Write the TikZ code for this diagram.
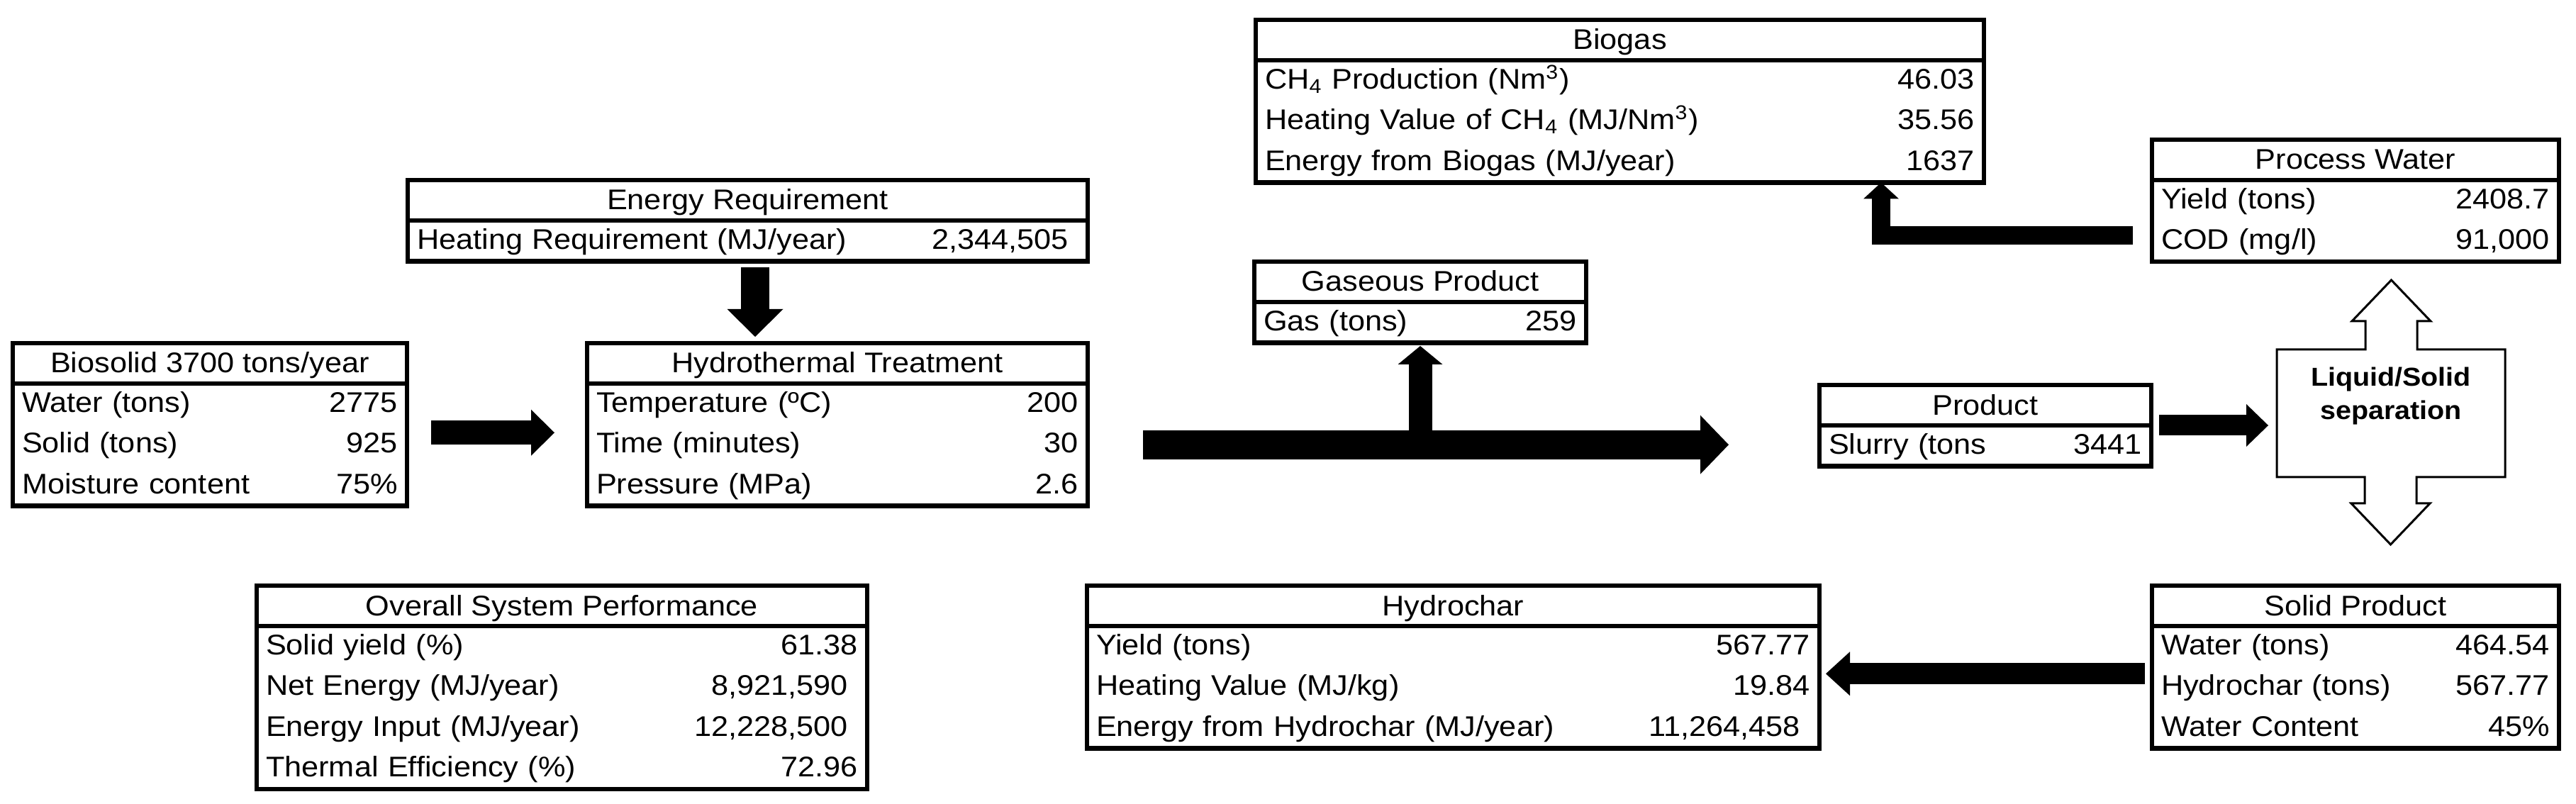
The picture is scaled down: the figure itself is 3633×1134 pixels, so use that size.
\documentclass[tikz,border=0pt]{standalone}
\usepackage{fontspec}
\setmainfont{Liberation Sans}[FakeStretch=1.08]
\usetikzlibrary{arrows.meta, positioning}

\tikzset{
  ttitle/.style={draw, line width=0.65mm, outer sep=0pt, inner sep=0pt,
    minimum height=5.7mm, text height=3.6mm, text depth=0.9mm, anchor=north west},
  tbody/.style={draw, line width=0.65mm, outer sep=0pt, inner xsep=1.3mm, inner ysep=0pt,
    minimum width=#1, text width=#1-2.6mm},
  flow/.style n args={3}{line width=#1, -{Triangle[length=#2, width=#3, line width=0pt]}},
  sepline/.style={draw, fill=white, line width=0.3mm, line join=miter},
}

\begin{document}
\begin{tikzpicture}[
    x=0.1mm,    % one unit = one pixel of the drawing
    y=-0.1mm,   % y runs downwards
    font=\fontsize{11.4}{16.36}\selectfont
]
    \useasboundingbox (0,0) rectangle (3633,1134);

    % --- Parameters ---
    \def\pad{\hspace*{1.4mm}} % trailing gap of the grouped numbers

    % --- 1. Input and treatment ---
    \node[ttitle, minimum width=55.6mm] (bioT) at (18,484) {Biosolid 3700 tons/year};
    \node[tbody=55.6mm, below=0pt of bioT] (bio) {%
      \begin{tabular*}{\linewidth}{@{}l@{\extracolsep{\fill}}r@{}}
        Water (tons) & 2775\\
        Solid (tons) & 925\\
        Moisture content & 75\%
      \end{tabular*}};

    \node[ttitle, minimum width=95.9mm] (enT) at (575,254) {Energy Requirement};
    \node[tbody=95.9mm, below=0pt of enT] (en) {%
      \begin{tabular*}{\linewidth}{@{}l@{\extracolsep{\fill}}r@{}}
        Heating Requirement (MJ/year) & 2,344,505\pad
      \end{tabular*}};

    \node[ttitle, minimum width=70.6mm] (htT) at (828,484) {Hydrothermal Treatment};
    \node[tbody=70.6mm, below=0pt of htT] (ht) {%
      \begin{tabular*}{\linewidth}{@{}l@{\extracolsep{\fill}}r@{}}
        Temperature (ºC) & 200\\
        Time (minutes) & 30\\
        Pressure (MPa) & 2.6
      \end{tabular*}};

    % --- 2. Products ---
    \node[ttitle, minimum width=46.8mm] (gasT) at (1769,369) {Gaseous Product};
    \node[tbody=46.8mm, below=0pt of gasT] (gas) {%
      \begin{tabular*}{\linewidth}{@{}l@{\extracolsep{\fill}}r@{}}
        Gas (tons) & 259
      \end{tabular*}};

    \node[ttitle, minimum width=102.7mm] (bgT) at (1771,28) {Biogas};
    \node[tbody=102.7mm, below=0pt of bgT] (bg) {%
      \begin{tabular*}{\linewidth}{@{}l@{\extracolsep{\fill}}r@{}}
        CH\textsubscript{4} Production (Nm\textsuperscript{3}) & 46.03\\
        Heating Value of CH\textsubscript{4} (MJ/Nm\textsuperscript{3}) & 35.56\\
        Energy from Biogas (MJ/year) & 1637
      \end{tabular*}};

    \node[ttitle, minimum width=57.4mm] (pwT) at (3035,197) {Process Water};
    \node[tbody=57.4mm, below=0pt of pwT] (pw) {%
      \begin{tabular*}{\linewidth}{@{}l@{\extracolsep{\fill}}r@{}}
        Yield (tons) & 2408.7\\
        COD (mg/l) & 91,000
      \end{tabular*}};

    \node[ttitle, minimum width=46.8mm] (prT) at (2566,543) {Product};
    \node[tbody=46.8mm, below=0pt of prT] (pr) {%
      \begin{tabular*}{\linewidth}{@{}l@{\extracolsep{\fill}}r@{}}
        Slurry (tons & 3441
      \end{tabular*}};

    \node[ttitle, minimum width=86.1mm] (ovT) at (362,826) {Overall System Performance};
    \node[tbody=86.1mm, below=0pt of ovT] (ov) {%
      \begin{tabular*}{\linewidth}{@{}l@{\extracolsep{\fill}}r@{}}
        Solid yield (\%) & 61.38\\
        Net Energy (MJ/year) & 8,921,590\pad\\
        Energy Input (MJ/year) & 12,228,500\pad\\
        Thermal Efficiency (\%) & 72.96
      \end{tabular*}};

    \node[ttitle, minimum width=103.3mm] (hcT) at (1533,826) {Hydrochar};
    \node[tbody=103.3mm, below=0pt of hcT] (hc) {%
      \begin{tabular*}{\linewidth}{@{}l@{\extracolsep{\fill}}r@{}}
        Yield (tons) & 567.77\\
        Heating Value (MJ/kg) & 19.84\\
        Energy from Hydrochar (MJ/year) & 11,264,458\pad
      \end{tabular*}};

    \node[ttitle, minimum width=57.4mm] (spT) at (3035,826) {Solid Product};
    \node[tbody=57.4mm, below=0pt of spT] (sp) {%
      \begin{tabular*}{\linewidth}{@{}l@{\extracolsep{\fill}}r@{}}
        Water (tons) & 464.54\\
        Hydrochar (tons) & 567.77\\
        Water Content & 45\%
      \end{tabular*}};

    % --- 3. Liquid/solid separation (box with open double arrow) ---
    \node[minimum width=32.2mm, minimum height=18mm, inner sep=0pt, outer sep=0pt] (ls) at (3372,583) {};
    \draw[sepline] (ls.north west) -- ++(125,0) -- ++(0,-40) -- ++(-19,0) -- ++(55.5,-58)
        -- ++(55.5,58) -- ++(-19,0) -- ++(0,40) -- (ls.north east) -- (ls.south east)
        -- ++(-125,0) -- ++(0,37) -- ++(19,0) -- ++(-55.5,58) -- ++(-55.5,-58)
        -- ++(19,0) -- ++(0,-37) -- (ls.south west) -- cycle;
    \node[font=\fontsize{10.4}{13.4}\selectfont\bfseries, align=center] (lsText)
        at ([yshift=2.4mm]ls.center) {Liquid/Solid\\separation};

    % --- 4. Flow arrows ---
    \draw[flow={3.4mm}{3.3mm}{6.5mm}, shorten <=3.4mm, shorten >=4.6mm]
        ([yshift=1.7mm]bio.east) -- ([yshift=1.7mm]bio.east -| htT.west);
    \draw[flow={4mm}{3.9mm}{7.9mm}, shorten <=0.9mm, shorten >=0.9mm]
        ([xshift=1.05mm]en.south) -- ([xshift=1.05mm]en.south |- htT.north);
    \draw[flow={3.3mm}{2.6mm}{6.3mm}, shorten >=0.45mm]
        (gas.south |- ht.east) -- (gas.south);
    \draw[flow={4.1mm}{4mm}{8.3mm}, shorten <=7.8mm, shorten >=12.8mm]
        (ht.east) -- (ht.east -| pr.west);
    \draw[flow={2.9mm}{3.1mm}{6mm}, shorten <=1.1mm, shorten >=1.2mm]
        (pr.north east) -- (pr.north east -| ls.west);
    \draw[flow={2.6mm}{2.3mm}{5mm}, shorten <=2.7mm]
        ([yshift=-2.05mm]pw.west) -| ([xshift=36.85mm]bg.south);
    \draw[flow={3mm}{3.4mm}{6.2mm}, shorten <=1mm, shorten >=0.9mm]
        ([yshift=1.9mm]sp.west) -- ([yshift=1.9mm]sp.west -| hc.east);

\end{tikzpicture}
\end{document}
